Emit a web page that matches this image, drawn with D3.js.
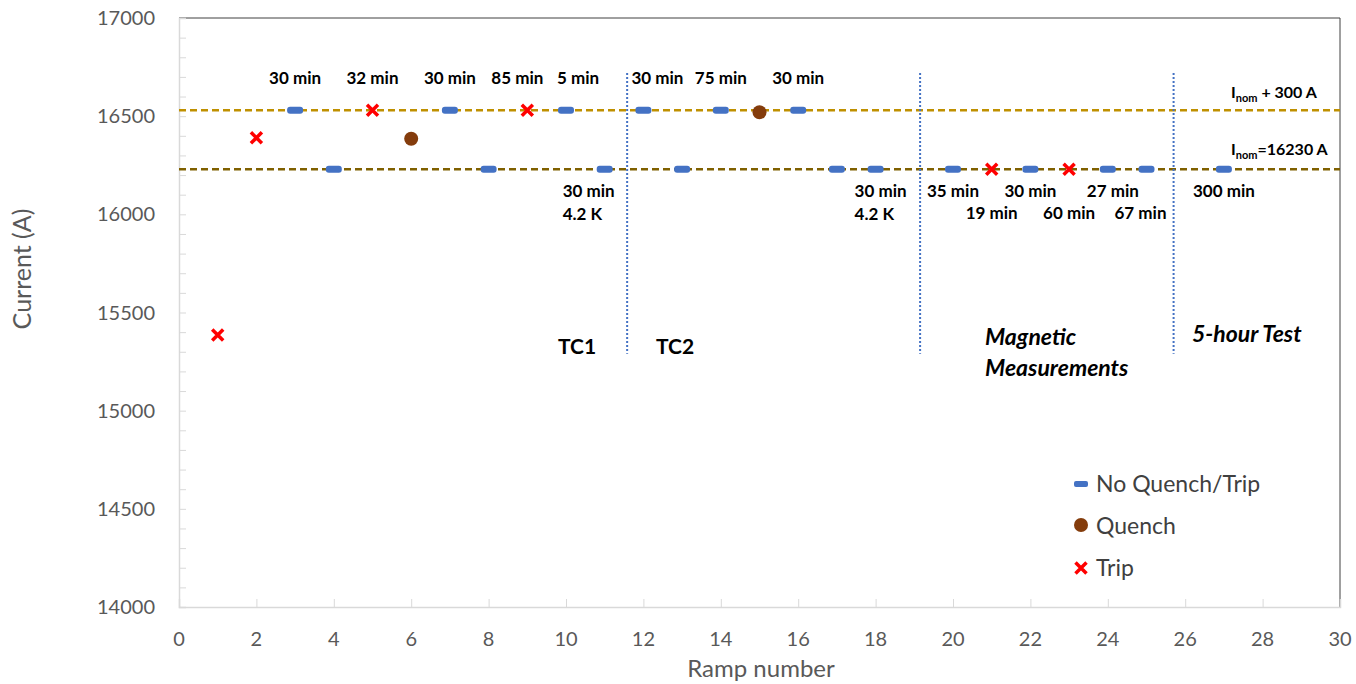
<!DOCTYPE html>
<html>
<head>
<meta charset="utf-8">
<script src="https://cdn.jsdelivr.net/npm/d3@7"></script>
<style>
  body { margin: 0; background: #fff; }
  text { font-family: Lato, "Open Sans", sans-serif; }
</style>
</head>
<body>
<div id="chart"></div>
<script>
// ramps with no quench or trip
const noQuenchRamps = [3, 7, 10, 12, 14, 16, 4, 8, 11, 13, 17, 18, 20, 22, 24, 25, 27];
const noQuenchCurrents = [16530, 16530, 16530, 16530, 16530, 16530, 16230, 16230, 16230, 16230, 16230, 16230, 16230, 16230, 16230, 16230, 16230];
const quenchRamps = [6, 15];
const quenchCurrents = [16385, 16520];
const tripRamps = [1, 2, 5, 9, 21, 23];
const tripCurrents = [15385, 16390, 16530, 16530, 16230, 16230];

// reference levels
const refLevels = [16530, 16230];
const sectionBounds = [11.58, 19.15, 25.7];

// hold-time labels: ramp, text, row (0 = above top line, 1 = below line, 2 = second row below)
const holdRamps = [3, 5, 7, 9, 10, 12, 14, 16, 11, 18, 20, 21, 22, 23, 24, 25, 27];
const holdTexts = ["30 min", "32 min", "30 min", "85 min", "5 min", "30 min", "75 min", "30 min",
  "30 min|4.2 K", "30 min|4.2 K", "35 min", "19 min", "30 min", "60 min", "27 min", "67 min", "300 min"];
const holdRows = [0, 0, 0, 0, 0, 0, 0, 0, 1, 1, 1, 2, 1, 2, 1, 2, 1];

const xTicks = d3.range(0, 31, 2);
const yTicks = [14000, 14500, 15000, 15500, 16000, 16500, 17000];

const width = 1356, height = 684;
const margin = { top: 18, right: 16, bottom: 77, left: 179 };

const svg = d3.select("#chart").append("svg")
  .attr("width", width)
  .attr("height", height);

const x = d3.scaleLinear().domain([0, 30]).range([margin.left, width - margin.right]);
const y = d3.scaleLinear().domain([14000, 17000]).range([height - margin.bottom, margin.top]);

// frame: top and right dark, left and bottom light
svg.append("line")
  .attr("x1", x(0)).attr("x2", x(30)).attr("y1", y(17000)).attr("y2", y(17000))
  .attr("stroke", "#404040").attr("stroke-width", 1);
svg.append("line")
  .attr("x1", x(30)).attr("x2", x(30)).attr("y1", y(17000)).attr("y2", y(14000))
  .attr("stroke", "#404040").attr("stroke-width", 1);

// y axis with minor ticks inside
const yAxis = svg.append("g")
  .attr("transform", `translate(${x(0)},0)`)
  .call(d3.axisRight(y).tickValues(d3.range(14000, 17001, 100)).tickSize(7).tickFormat(""));
yAxis.select(".domain").attr("stroke", "#d9d9d9").attr("stroke-width", 1.5);
yAxis.selectAll(".tick line").attr("stroke", "#d9d9d9");

svg.append("g")
  .selectAll("text")
  .data(yTicks)
  .join("text")
  .attr("x", x(0) - 24)
  .attr("y", d => y(d))
  .attr("dy", "0.35em")
  .attr("text-anchor", "end")
  .attr("fill", "#595959")
  .style("font-size", "20px")
  .text(d => d);

// x axis with ticks inside
const xAxis = svg.append("g")
  .attr("transform", `translate(0,${y(14000)})`)
  .call(d3.axisTop(x).tickValues(xTicks).tickSize(8).tickFormat(""));
xAxis.select(".domain").attr("stroke", "#d9d9d9").attr("stroke-width", 1.5);
xAxis.selectAll(".tick line").attr("stroke", "#d9d9d9");

svg.append("g")
  .selectAll("text")
  .data(xTicks)
  .join("text")
  .attr("x", d => x(d))
  .attr("y", y(14000) + 39)
  .attr("text-anchor", "middle")
  .attr("fill", "#595959")
  .style("font-size", "20px")
  .text(d => d);

// axis titles
svg.append("text")
  .attr("x", 761)
  .attr("y", 677)
  .attr("text-anchor", "middle")
  .attr("fill", "#595959")
  .style("font-size", "24px")
  .text("Ramp number");

svg.append("text")
  .attr("transform", `translate(31,269) rotate(-90)`)
  .attr("text-anchor", "middle")
  .attr("fill", "#595959")
  .style("font-size", "25px")
  .text("Current (A)");

// reference dashed lines
const refColors = ["#BF9000", "#7F6000"];
svg.append("g")
  .selectAll("line")
  .data(refLevels)
  .join("line")
  .attr("x1", x(0)).attr("x2", x(30))
  .attr("y1", d => y(d)).attr("y2", d => y(d))
  .attr("stroke", (d, i) => refColors[i])
  .attr("stroke-width", 2.5)
  .attr("stroke-dasharray", "7,4");

// section separators
svg.append("g")
  .selectAll("line")
  .data(sectionBounds)
  .join("line")
  .attr("x1", d => x(d)).attr("x2", d => x(d))
  .attr("y1", y(16720)).attr("y2", y(15290))
  .attr("stroke", "#4472C4")
  .attr("stroke-width", 2)
  .attr("stroke-dasharray", "2,2");

// no quench markers (short bars)
svg.append("g")
  .selectAll("rect")
  .data(noQuenchRamps)
  .join("rect")
  .attr("x", d => x(d) - 8)
  .attr("y", (d, i) => y(noQuenchCurrents[i]) - 3.5)
  .attr("width", 16)
  .attr("height", 7)
  .attr("rx", 3)
  .attr("fill", "#4472C4");

// quench markers
svg.append("g")
  .selectAll("circle")
  .data(quenchRamps)
  .join("circle")
  .attr("cx", d => x(d))
  .attr("cy", (d, i) => y(quenchCurrents[i]))
  .attr("r", 7)
  .attr("fill", "#843C0C");

// trip markers
svg.append("g")
  .selectAll("path")
  .data(tripRamps)
  .join("path")
  .attr("transform", (d, i) => `translate(${x(d)},${y(tripCurrents[i])})`)
  .attr("d", "M-5.5,-5.5L5.5,5.5M5.5,-5.5L-5.5,5.5")
  .attr("stroke", "#FF0000")
  .attr("stroke-width", 3.5)
  .attr("fill", "none");

// hold time labels (small nudges so they don't collide)
const rowY = [78, 191, 213];
const nudge = { 9: -10, 10: 12, 12: 14, 11: -42, 18: -21, 24: 5, 25: -6 };
const labels = svg.append("g")
  .selectAll("text")
  .data(holdRamps)
  .join("text")
  .attr("x", d => x(d) + (nudge[d] || 0))
  .attr("y", (d, i) => rowY[holdRows[i]])
  .attr("text-anchor", (d, i) => holdTexts[i].includes("|") ? "start" : "middle")
  .attr("fill", "#000")
  .style("font-size", "17px")
  .style("font-weight", "bold");
labels.each(function(d, i) {
  const parts = holdTexts[i].split("|");
  const t = d3.select(this);
  parts.forEach((p, k) => {
    t.append("tspan")
      .attr("x", t.attr("x"))
      .attr("dy", k === 0 ? "0.35em" : "1.35em")
      .text(p);
  });
});

// section titles
svg.append("text").attr("x", 577).attr("y", 347).attr("dy", "0.35em")
  .attr("text-anchor", "middle").style("font-size", "21px").style("font-weight", "bold").text("TC1");
svg.append("text").attr("x", 675).attr("y", 347).attr("dy", "0.35em")
  .attr("text-anchor", "middle").style("font-size", "21px").style("font-weight", "bold").text("TC2");
const mm = svg.append("text").attr("x", 985).attr("y", 337).attr("dy", "0.35em")
  .style("font-size", "23px").style("font-weight", "bold").style("font-style", "italic");
mm.append("tspan").attr("x", 985).text("Magnetic");
mm.append("tspan").attr("x", 985).attr("dy", "1.35em").text("Measurements");
svg.append("text").attr("x", 1192).attr("y", 334).attr("dy", "0.35em")
  .style("font-size", "23px").style("font-weight", "bold").style("font-style", "italic").text("5-hour Test");

// reference level labels
const refLabels = [" + 300 A", "=16230 A"];
svg.append("g")
  .selectAll("text")
  .data(refLevels)
  .join("text")
  .attr("x", 1231)
  .attr("y", (d, i) => [98, 155][i])
  .style("font-size", "16px")
  .style("font-weight", "bold")
  .each(function(d, i) {
    const t = d3.select(this);
    t.append("tspan").text("I");
    t.append("tspan").attr("dy", 4).style("font-size", "11px").text("nom");
    t.append("tspan").attr("dy", -4).text(refLabels[i]);
  });

// legend
const legend = svg.append("g").attr("transform", "translate(1081,0)");
legend.append("rect").attr("x", -7).attr("y", 481).attr("width", 14).attr("height", 6).attr("rx", 2).attr("fill", "#4472C4");
legend.append("circle").attr("cx", 0).attr("cy", 525).attr("r", 7).attr("fill", "#843C0C");
legend.append("path").attr("transform", "translate(0,568)")
  .attr("d", "M-5.5,-5.5L5.5,5.5M5.5,-5.5L-5.5,5.5")
  .attr("stroke", "#FF0000").attr("stroke-width", 3.5);
const legendTexts = ["No Quench/Trip", "Quench", "Trip"];
legend.selectAll("text.lg")
  .data(legendTexts)
  .join("text")
  .attr("class", "lg")
  .attr("x", 15)
  .attr("y", (d, i) => 484 + i * 42)
  .attr("dy", "0.35em")
  .attr("fill", "#404040")
  .style("font-size", "23px")
  .text(d => d);
</script>
</body>
</html>
